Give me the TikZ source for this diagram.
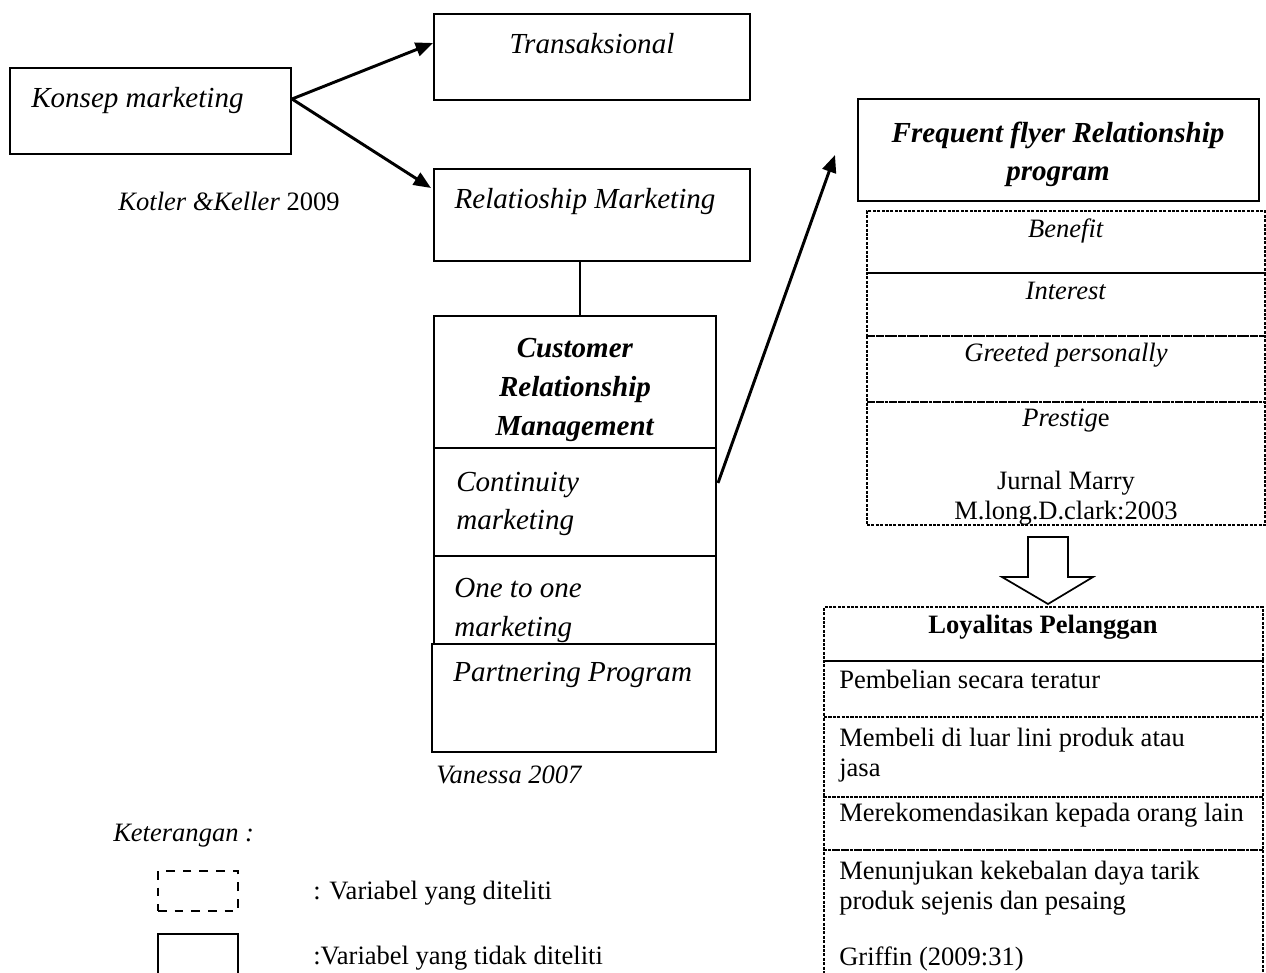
\documentclass[tikz,border=0pt]{standalone}
\usepackage{fontspec}
\setmainfont{Liberation Serif}
\usetikzlibrary{fit,arrows.meta}
\newcommand{\LargeTxt}{\fontsize{21.8}{29.6}\selectfont}
\newcommand{\SmallTxt}{\fontsize{19.9}{22.8}\selectfont}
\tikzset{
  box/.style={draw, line width=1.5pt, inner sep=0pt},
  dbox/.style={draw, line width=0.9pt, dash pattern=on 2.2pt off 1.1pt, inner sep=0pt},
  legdash/.style={draw, line width=2pt, dash pattern=on 6.5pt off 6pt, inner sep=0pt},
  arr/.style={line width=2.2pt, -{Triangle[length=13pt,width=10.5pt]}},
  conn/.style={line width=1.5pt},
  lt/.style={font=\LargeTxt, inner sep=0pt},
  st/.style={font=\SmallTxt, inner sep=0pt},
}
\begin{document}
\begin{tikzpicture}[x=0.75pt,y=-0.75pt]
\path[use as bounding box, clip] (0,0) rectangle (1266,973);
\fill[white] (0,0) rectangle (1266,973);

% left column
\node[box, fit={(10,68) (291,154)}] (konsep) {};
\node[lt, anchor=mid west] (konsepT) at (31,104) {\textit{Konsep marketing}};
\node[st, anchor=mid] (kotler) at (229,207) {\textit{Kotler \&Keller} 2009};

\node[box, fit={(434,14) (750,100)}] (trans) {};
\node[lt, anchor=mid] (transT) at (592,50) {\textit{Transaksional}};

\node[box, fit={(434,169) (750,261)}] (rm) {};
\node[lt, anchor=mid] (rmT) at (585,205) {\textit{Relatioship Marketing}};

\coordinate (ks) at (292,99);
\coordinate (tt) at (433,43);
\coordinate (rt) at (431,188);
\draw[arr] (ks) -- (tt);
\draw[arr] (ks) -- (rt);

% CRM stack
\node[box, fit={(434,316) (716,448)}] (crm) {};
\node[box, fit={(434,448) (716,556)}] (cont) {};
\node[box, fit={(434,556) (716,644)}] (one) {};
\node[box, fit={(432,644) (716,752)}] (part) {};
\coordinate (lx) at (580,0);
\draw[conn] (rm.south -| lx) -- (crm.north -| lx);

\node[lt, align=center, anchor=center, font=\fontsize{21.8}{29.6}\selectfont] (crmT) at (575,390) {\textbf{\textit{Customer}}\\\textbf{\textit{Relationship}}\\\textbf{\textit{Management}}};
\node[lt, align=left, anchor=west, font=\fontsize{21.8}{28.6}\selectfont] (contT) at (456,504) {\textit{Continuity}\\\textit{marketing}};
\node[lt, align=left, anchor=west, font=\fontsize{21.8}{29.2}\selectfont] (oneT) at (454,610) {\textit{One to one}\\\textit{marketing}};
\node[lt, anchor=mid west] (partT) at (453,678) {\textit{Partnering Program}};
\node[st, anchor=mid west] (van) at (436,780) {\textit{Vanessa 2007}};

% Frequent flyer
\node[box, fit={(858,99) (1259,201)}] (ff) {};
\node[lt, align=center, anchor=center, font=\fontsize{21.8}{28.6}\selectfont] (ffT) at (1058,154) {\textbf{\textit{Frequent flyer Relationship}}\\\textbf{\textit{program}}};
\coordinate (cs) at (718,483);
\coordinate (ft) at (835,155);
\draw[arr] (cs) -- (ft);

\node[dbox, fit={(867,211) (1265,273)}] (ben) {};
\node[dbox, fit={(867,273) (1265,336)}] (int) {};
\node[dbox, fit={(867,336) (1265,402)}] (gre) {};
\node[dbox, fit={(867,402) (1265,525)}] (pre) {};
\node[st, anchor=mid] (benT) at (1066,234) {\textit{Benefit}};
\node[st, anchor=mid] (intT) at (1066,296) {\textit{Interest}};
\node[st, anchor=mid] (greT) at (1066,358) {\textit{Greeted personally}};
\node[st, anchor=mid] (preT) at (1066,423) {\textit{Prestig}e};
\node[st, align=center, anchor=center, font=\fontsize{19.9}{23}\selectfont] (jur) at (1066,498) {Jurnal Marry\\M.long.D.clark:2003};

% hollow arrow
\draw[line width=1.3pt, fill=white] (1028,537) -- (1068,537) -- (1068,577) -- (1093,577) -- (1048,604) -- (1002,577) -- (1028,577) -- cycle;

% Loyalitas
\node[dbox, fit={(824,607) (1263,661)}] (loy) {};
\node[dbox, fit={(824,661) (1263,717)}] (l1) {};
\node[dbox, fit={(824,717) (1263,797)}] (l2) {};
\node[dbox, fit={(824,797) (1263,850)}] (l3) {};
\node[dbox, fit={(824,850) (1263,995)}] (l4) {};
\node[st, anchor=mid] (loyT) at (1043,630) {\textbf{Loyalitas Pelanggan}};
\node[st, anchor=mid west] (l1T) at (839,685) {Pembelian secara teratur};
\node[st, align=left, anchor=west, font=\fontsize{19.9}{22.5}\selectfont] (l2T) at (839,755) {Membeli di luar lini produk atau\\jasa};
\node[st, anchor=mid west] (l3T) at (839,818) {Merekomendasikan kepada orang lain};
\node[st, align=left, anchor=west, font=\fontsize{19.9}{22}\selectfont] (l4T) at (839,888) {Menunjukan kekebalan daya tarik\\produk sejenis dan pesaing};
\node[st, anchor=mid west] (grif) at (839,962) {Griffin (2009:31)};

% legend
\node[st, anchor=mid west] (ket) at (113,838) {\textit{Keterangan :}};
\node[legdash, fit={(158,871) (238,911)}] (lgd) {};
\node[box, fit={(158,934) (238,990)}] (lgs) {};
\node[st, anchor=mid west] (lgdT) at (313,896) {: Variabel yang diteliti};
\node[st, anchor=mid west] (lgsT) at (313,961) {:Variabel yang tidak diteliti};
\end{tikzpicture}
\end{document}
